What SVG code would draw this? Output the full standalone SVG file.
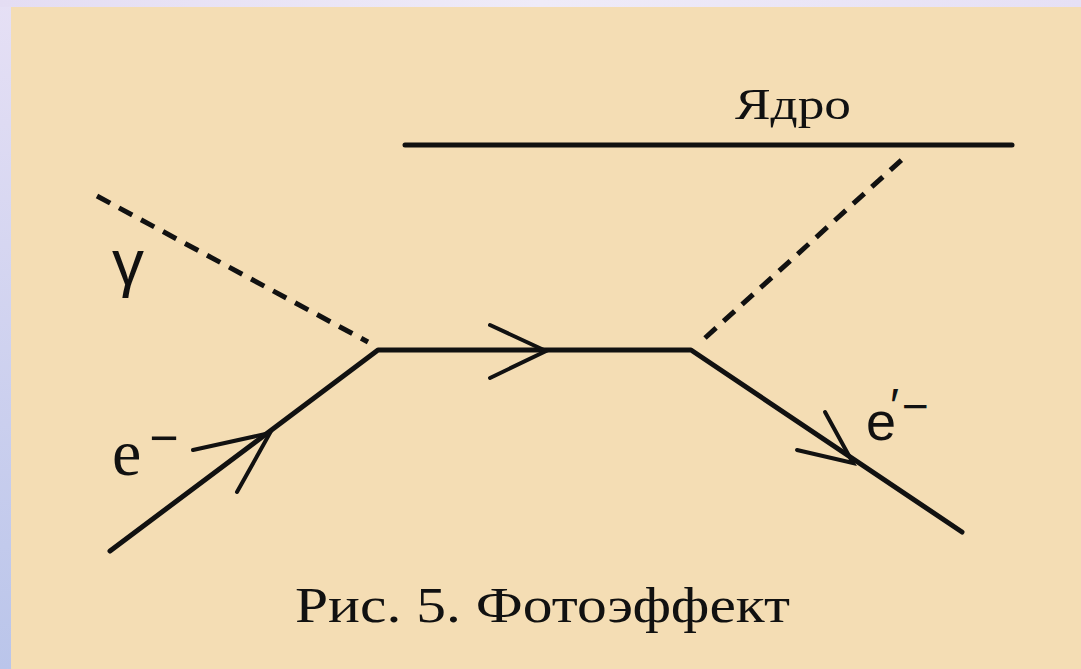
<svg xmlns="http://www.w3.org/2000/svg" width="1081" height="669" viewBox="0 0 1081 669">
  <defs>
    <linearGradient id="frame" x1="0" y1="0" x2="0" y2="1">
      <stop offset="0" stop-color="#e6e0f5"/>
      <stop offset="1" stop-color="#bac5ea"/>
    </linearGradient>
    <linearGradient id="topframe" x1="0" y1="0" x2="1" y2="0">
      <stop offset="0" stop-color="#e4ddf3"/>
      <stop offset="0.5" stop-color="#efebf8"/>
      <stop offset="1" stop-color="#e6e0f5"/>
    </linearGradient>
    <style>
      .solid { stroke: #111; stroke-width: 5; fill: none; stroke-linecap: round; stroke-linejoin: round; }
      .thin { stroke: #111; stroke-width: 4; fill: none; stroke-linecap: round; }
      .dash { stroke: #111; stroke-width: 5; fill: none; stroke-dasharray: 15 10; }
      .lbl { font-family: "Liberation Sans", Arial, sans-serif; fill: #111; }
      .serif { font-family: "Liberation Serif", "Times New Roman", serif; fill: #111; }
    </style>
  </defs>
  <rect x="0" y="0" width="1081" height="669" fill="url(#frame)"/>
  <rect x="0" y="0" width="1081" height="7" fill="url(#topframe)"/>
  <rect x="11" y="7" width="1070" height="662" fill="#f4ddb4"/>

  <g id="nucleus">
    <line class="solid" x1="405" y1="145" x2="1012" y2="145"/>
    <text class="serif" x="735" y="119" font-size="44" textLength="116" lengthAdjust="spacingAndGlyphs" fill="#2a2a2a">Ядро</text>
  </g>

  <g id="photon">
    <text class="lbl" x="112" y="285" font-size="64">γ</text>
  </g>

  <g id="electron-in">
    <text class="serif" x="112" y="475" font-size="66">e<tspan font-family="Liberation Sans, sans-serif" dx="8" dy="-20" font-size="50">−</tspan></text>
  </g>

  <g id="electron-out">
    <text class="lbl" x="866" y="440" font-size="54">e<tspan dx="-6" dy="-18" font-size="48">′</tspan><tspan dx="3" dy="0" font-size="46">−</tspan></text>
  </g>

  <g id="connectors">
    <line class="dash" x1="97" y1="196" x2="368" y2="342"/>
    <line class="dash" x1="705" y1="338" x2="907" y2="155"/>
    <polyline class="solid" points="110,551 378,350 691,350 962,532"/>
    <polyline class="thin" points="193,450 270,433 237,492"/>
    <polyline class="thin" points="490,325 546,351 490,378"/>
    <polyline class="thin" points="825,412 853,463 797,450"/>
  </g>

  <g id="caption">
    <text class="serif" x="295" y="622" font-size="50" textLength="495" lengthAdjust="spacingAndGlyphs" fill="#1a1a1a">Рис. 5. Фотоэффект</text>
  </g>
</svg>
